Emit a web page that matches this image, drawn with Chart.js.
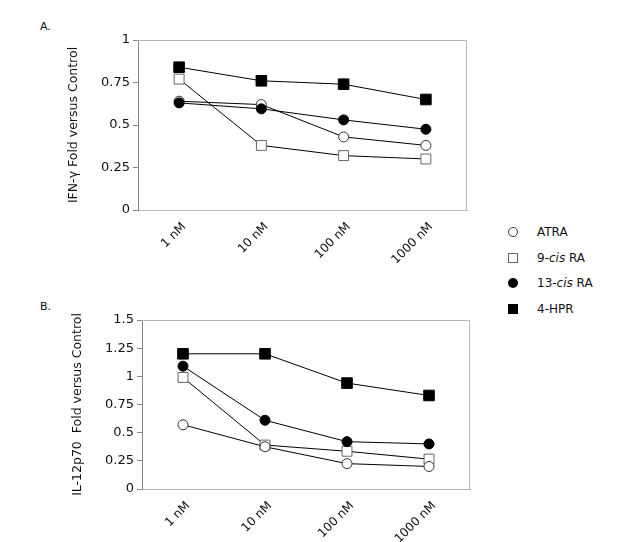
<!DOCTYPE html>
<html>
<head>
<meta charset="utf-8">
<script src="https://cdn.jsdelivr.net/npm/chart.js@4.4.1/dist/chart.umd.min.js"></script>
<style>
  body { margin: 0; background: #fff; font-family: "DejaVu Sans", sans-serif; }
  #wrap { position: relative; width: 625px; height: 542px; overflow: hidden; }
  .panel { position: absolute; left: 0; }
  .tag { position: absolute; left: 40px; font-size: 11px; color: #111; }
  #legend { position: absolute; left: 508px; top: 219px; font-size: 12px; color: #111; }
  #legend div { height: 25.7px; display: flex; align-items: center; }
  #legend span.m { display: inline-block; width: 10px; height: 10px; margin-right: 19px; box-sizing: border-box; }
</style>
</head>
<body>
<div id="wrap">
  <div class="tag" style="top:20px;">A.</div>
  <div class="tag" style="top:300px;">B.</div>
  <div class="panel" style="top:0;width:480px;height:285px;"><canvas id="chartA"></canvas></div>
  <div class="panel" style="top:285px;width:480px;height:257px;"><canvas id="chartB"></canvas></div>
  <div id="legend">
    <div><span class="m" style="border:1px solid #333;border-radius:50%;"></span>ATRA</div>
    <div><span class="m" style="border:1px solid #666;"></span>9-<i>cis</i>&nbsp;RA</div>
    <div><span class="m" style="background:#000;border-radius:50%;"></span>13-<i>cis</i>&nbsp;RA</div>
    <div><span class="m" style="background:#000;"></span>4-HPR</div>
  </div>
</div>
<script>
// doses on the x axis
const doses = ['1 nM', '10 nM', '100 nM', '1000 nM'];

// A. IFN-gamma fold versus control
const ifnATRA = [0.64, 0.62, 0.43, 0.38];
const ifn9cis = [0.77, 0.38, 0.32, 0.30];
const ifn13cis = [0.63, 0.595, 0.53, 0.475];
const ifnHPR = [0.84, 0.76, 0.74, 0.65];
const ifnTicks = [0, 0.25, 0.5, 0.75, 1];

// B. IL-12p70 fold versus control
const ilATRA = [0.57, 0.375, 0.225, 0.20];
const il9cis = [0.99, 0.39, 0.335, 0.265];
const il13cis = [1.09, 0.61, 0.42, 0.40];
const ilHPR = [1.2, 1.2, 0.94, 0.83];
const ilTicks = [0, 0.25, 0.5, 0.75, 1, 1.25, 1.5];

const FONT = '"DejaVu Sans", sans-serif';

const frame = {
  id: 'frame',
  beforeDatasetsDraw(chart) {
    const a = chart.chartArea, ctx = chart.ctx;
    ctx.save();
    ctx.strokeStyle = '#b8b8b8';
    ctx.lineWidth = 1;
    ctx.beginPath();
    ctx.moveTo(a.left, a.top + 0.5); ctx.lineTo(a.right - 0.5, a.top + 0.5);
    ctx.lineTo(a.right - 0.5, a.bottom);
    ctx.stroke();
    ctx.restore();
  }
};

function series(atra, nine, thirteen, hpr) {
  const base = { borderColor: '#000', borderWidth: 1, tension: 0 };
  return [
    { ...base, label: 'ATRA', data: atra, pointStyle: 'circle', pointRadius: 5, backgroundColor: '#fff', pointBorderColor: '#333', pointBorderWidth: 1, order: 2 },
    { ...base, label: '9-cis RA', data: nine, pointStyle: 'rect', pointRadius: 7, backgroundColor: '#fff', pointBorderColor: '#666', pointBorderWidth: 1, order: 3 },
    { ...base, label: '13-cis RA', data: thirteen, pointStyle: 'circle', pointRadius: 5, backgroundColor: '#000', pointBorderColor: '#000', pointBorderWidth: 1, order: 1 },
    { ...base, label: '4-HPR', data: hpr, pointStyle: 'rect', pointRadius: 7.5, backgroundColor: '#000', pointBorderColor: '#000', pointBorderWidth: 1, order: 4 },
  ];
}

function makeChart(id, datasets, ticks, max, title, o) {
  new Chart(document.getElementById(id), {
    type: 'line',
    data: { labels: doses, datasets },
    plugins: [frame],
    options: {
      responsive: true, maintainAspectRatio: false, animation: false,
      layout: { padding: { left: o.left, top: o.top, right: o.right, bottom: 0 } },
      plugins: { legend: { display: false }, tooltip: { enabled: false } },
      scales: {
        x: {
          offset: true,
          grid: { display: false },
          border: { color: '#b8b8b8' },
          ticks: { color: '#111', font: { family: FONT, size: 12 }, maxRotation: 45, minRotation: 45, padding: 2, labelOffset: 5 },
          afterFit(s) { s.height = o.xh; },
        },
        y: {
          min: 0, max,
          afterBuildTicks(s) { s.ticks = ticks.map(v => ({ value: v })); },
          grid: { drawOnChartArea: false, drawTicks: true, tickLength: 5, color: '#888' },
          border: { color: '#888' },
          ticks: { color: '#111', font: { family: FONT, size: 13 }, padding: 3, callback: v => String(v) },
          title: { display: true, text: title, color: '#111', font: { family: FONT, size: 12.5 }, padding: { top: 0, bottom: 0 } },
          afterFit(s) { s.width = o.yw; },
        },
      },
    },
  });
}

makeChart('chartA', series(ifnATRA, ifn9cis, ifn13cis, ifnHPR), ifnTicks, 1,
  'IFN-\u03b3 Fold versus Control', { left: 66, top: 40, right: 13, yw: 72, xh: 75 });
makeChart('chartB', series(ilATRA, il9cis, il13cis, ilHPR), ilTicks, 1.5,
  'IL-12p70  Fold versus Control', { left: 70, top: 35, right: 10, yw: 72, xh: 53 });
</script>
</body>
</html>
